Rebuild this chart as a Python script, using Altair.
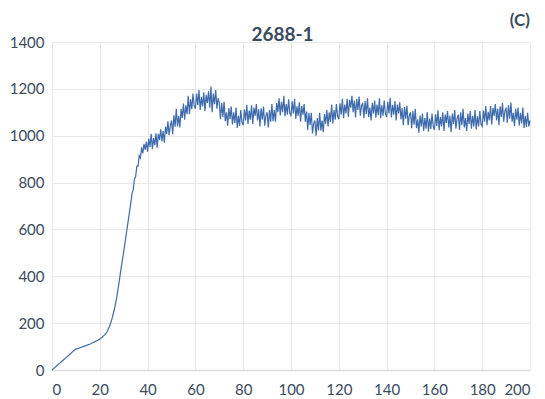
import altair as alt
import numpy as np
import pandas as pd

# Early (smooth rise) part of the curve
x_early = list(range(0, 33)) + [33, 33.5, 34, 34.5, 35, 35.5, 36, 36.5, 37, 37.5, 38, 38.5, 39, 39.5]
y_early = [0, 9, 18, 27, 36, 45, 54, 63, 72, 82,
           89, 92, 96, 100, 103, 107, 111, 116, 121, 126,
           132, 140, 150, 162, 185, 215, 255, 305, 370, 440,
           505, 575, 645,
           715, 755, 770, 815, 825, 870, 870, 915, 905, 950, 925, 965, 940, 975]

# Noisy plateau, sampled every 0.5 from 40 to 200
y_40 = [932, 988, 952, 1008, 943, 990, 960, 1010, 949, 1008, 982, 1027, 976, 1021, 970, 1039, 1008, 1061, 1002, 1043]
y_50 = [1065, 1006, 1087, 1038, 1115, 1040, 1085, 1035, 1115, 1076, 1137, 1068, 1130, 1092, 1170, 1092, 1155, 1113, 1180, 1127]
y_60 = [1115, 1180, 1130, 1195, 1110, 1165, 1125, 1185, 1105, 1175, 1140, 1190, 1120, 1210, 1100, 1180, 1135, 1195, 1115, 1160]
y_70 = [1140, 1070, 1140, 1080, 1145, 1062, 1100, 1043, 1118, 1072, 1125, 1048, 1100, 1053, 1120, 1033, 1085, 1042, 1110, 1057]
y_80 = [1045, 1112, 1065, 1132, 1050, 1107, 1068, 1130, 1050, 1120, 1085, 1135, 1065, 1113, 1040, 1117, 1068, 1125, 1043, 1085]
y_90 = [1100, 1035, 1110, 1060, 1135, 1062, 1110, 1060, 1140, 1100, 1160, 1087, 1145, 1100, 1170, 1082, 1135, 1090, 1155, 1098]
y_100 = [1083, 1147, 1095, 1158, 1072, 1125, 1085, 1143, 1060, 1127, 1090, 1135, 1060, 1103, 1025, 1098, 1045, 1098, 1010, 1052]
y_110 = [1065, 1000, 1075, 1022, 1098, 1022, 1065, 1015, 1092, 1051, 1110, 1040, 1100, 1059, 1133, 1052, 1110, 1068, 1135, 1082]
y_120 = [1070, 1138, 1090, 1158, 1075, 1133, 1095, 1158, 1080, 1153, 1120, 1170, 1100, 1150, 1078, 1157, 1110, 1167, 1085, 1128]
y_130 = [1140, 1075, 1148, 1092, 1160, 1080, 1120, 1065, 1140, 1095, 1150, 1077, 1133, 1088, 1160, 1075, 1130, 1085, 1150, 1095]
y_140 = [1080, 1145, 1095, 1162, 1078, 1132, 1090, 1148, 1065, 1133, 1095, 1143, 1070, 1117, 1045, 1122, 1073, 1129, 1045, 1087]
y_150 = [1100, 1032, 1105, 1047, 1115, 1032, 1070, 1013, 1086, 1040, 1095, 1020, 1075, 1030, 1101, 1017, 1073, 1029, 1095, 1040]
y_160 = [1025, 1091, 1042, 1108, 1024, 1080, 1040, 1100, 1020, 1090, 1055, 1105, 1035, 1085, 1015, 1095, 1050, 1110, 1030, 1075]
y_170 = [1090, 1025, 1100, 1045, 1115, 1035, 1075, 1020, 1095, 1050, 1105, 1030, 1085, 1040, 1110, 1027, 1083, 1040, 1105, 1050]
y_180 = [1040, 1107, 1060, 1127, 1045, 1102, 1065, 1127, 1048, 1119, 1085, 1135, 1065, 1115, 1045, 1125, 1080, 1140, 1060, 1105]
y_190 = [1120, 1055, 1130, 1073, 1142, 1060, 1098, 1041, 1115, 1068, 1120, 1044, 1098, 1052, 1120, 1033, 1085, 1037, 1098, 1040, 1065]

y_noisy = (y_40 + y_50 + y_60 + y_70 + y_80 + y_90 + y_100 + y_110 +
           y_120 + y_130 + y_140 + y_150 + y_160 + y_170 + y_180 + y_190)
x_noisy = list(np.arange(40, 200.01, 0.5))

df = pd.DataFrame({"x": x_early + x_noisy, "y": y_early + y_noisy})

TEXT = "#3a4b5e"
FONT = "Lato"

line = alt.Chart(df).mark_line(color="#3d6bab", strokeWidth=1.2).encode(
    x=alt.X("x:Q", scale=alt.Scale(domain=[0, 200], nice=False),
            axis=alt.Axis(values=list(range(0, 201, 20)), title=None, ticks=False,
                          format="d", labelFontSize=15, labelColor=TEXT, labelFont=FONT,
                          labelPadding=12, labelFlush=True, grid=True, gridColor="#e8e8e8",
                          domainColor="#dcdcdc", domainWidth=1.5)),
    y=alt.Y("y:Q", scale=alt.Scale(domain=[0, 1400], nice=False),
            axis=alt.Axis(values=list(range(0, 1401, 200)), title=None, ticks=False,
                          format="d", labelFontSize=15, labelColor=TEXT, labelFont=FONT,
                          labelPadding=8, grid=True, gridColor="#e8e8e8",
                          domain=False)),
)

title_df = pd.DataFrame({"t": ["2688-1"]})
title = alt.Chart(title_df).mark_text(
    align="center", baseline="alphabetic", fontSize=19, fontWeight="bold",
    font=FONT, color=TEXT
).encode(text="t:N", x=alt.value(230.5), y=alt.value(-1))

label_c = alt.Chart(pd.DataFrame({"t": ["(C)"]})).mark_text(
    align="right", baseline="middle", fontSize=17, fontWeight="bold",
    font=FONT, color=TEXT
).encode(text="t:N", x=alt.value(478), y=alt.value(-21))

chart = alt.layer(line, title, label_c).properties(
    width=478, height=328,
    autosize=alt.AutoSizeParams(type="none"),
    padding={"left": 44, "top": 34, "right": 7, "bottom": 29},
).configure_view(stroke=None)

chart.save("out.html", embed_options={"renderer": "svg", "actions": False})
